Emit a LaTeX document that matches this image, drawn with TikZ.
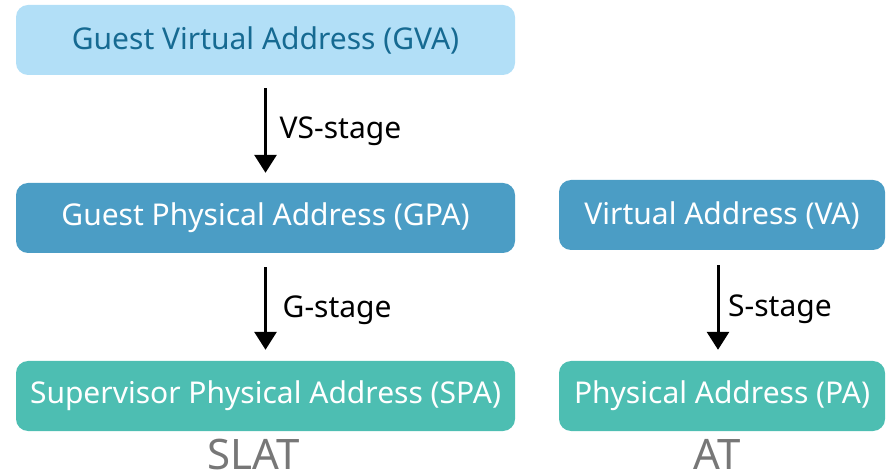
\documentclass[tikz,border=0pt]{standalone}
\usepackage{fontspec}
\setmainfont{Noto Sans}
\usetikzlibrary{arrows.meta}

\definecolor{gvafill}{RGB}{178,223,247}
\definecolor{gvatext}{RGB}{22,106,146}
\definecolor{bluefill}{RGB}{75,157,197}
\definecolor{tealfill}{RGB}{77,190,178}
\definecolor{tagtext}{RGB}{119,119,119}

\tikzset{
  addrbox/.style={rounded corners=12pt, inner sep=0pt, minimum height=70pt,
    font=\fontsize{30}{36}\selectfont, text=white},
  stagearrow/.style={line width=3pt, -{Triangle[width=22pt,length=18pt]}},
  stagelabel/.style={anchor=west, inner sep=0pt, font=\fontsize{30}{36}\selectfont},
  tag/.style={anchor=base, inner sep=0pt, text=tagtext, font=\fontsize{42}{50}\selectfont}
}

\begin{document}
\begin{tikzpicture}[x=1pt, y=1pt]
  \useasboundingbox (0,0) rectangle (891,474);

  % address boxes
  \node[addrbox, fill=gvafill, text=gvatext, minimum width=499pt] (gva) at (265.5,434) {Guest Virtual Address (GVA)};
  \node[addrbox, fill=bluefill, minimum width=499pt] (gpa) at (265.5,256) {Guest Physical Address (GPA)};
  \node[addrbox, fill=tealfill, minimum width=499pt] (spa) at (265.5,78) {Supervisor Physical Address (SPA)};
  \node[addrbox, fill=bluefill, minimum width=326pt] (va) at (722,259) {Virtual Address (VA)};
  \node[addrbox, fill=tealfill, minimum width=326pt] (pa) at (722,78) {Physical Address (PA)};

  % translation stages
  \draw[stagearrow, shorten <=13pt, shorten >=10pt] (gva.south) -- (gpa.north)
    coordinate[pos=0.5] (m1);
  \node[stagelabel] (vs) at ([xshift=14pt,yshift=-2pt]m1) {VS-stage};

  \draw[stagearrow, shorten <=14pt, shorten >=11pt] (gpa.south) -- (spa.north)
    coordinate[pos=0.5] (m2);
  \node[stagelabel] (gs) at ([xshift=17pt,yshift=-3pt]m2) {G-stage};

  \draw[stagearrow, shorten <=15pt, shorten >=11pt] ([xshift=-4pt]va.south) -- ([xshift=-4pt]pa.north)
    coordinate[pos=0.5] (m3);
  \node[stagelabel] (ss) at ([xshift=10pt,yshift=-4pt]m3) {S-stage};

  % captions
  \node[tag] (slat) at (254,5) {SLAT};
  \node[tag] (at) at (717,5) {AT};
\end{tikzpicture}
\end{document}
